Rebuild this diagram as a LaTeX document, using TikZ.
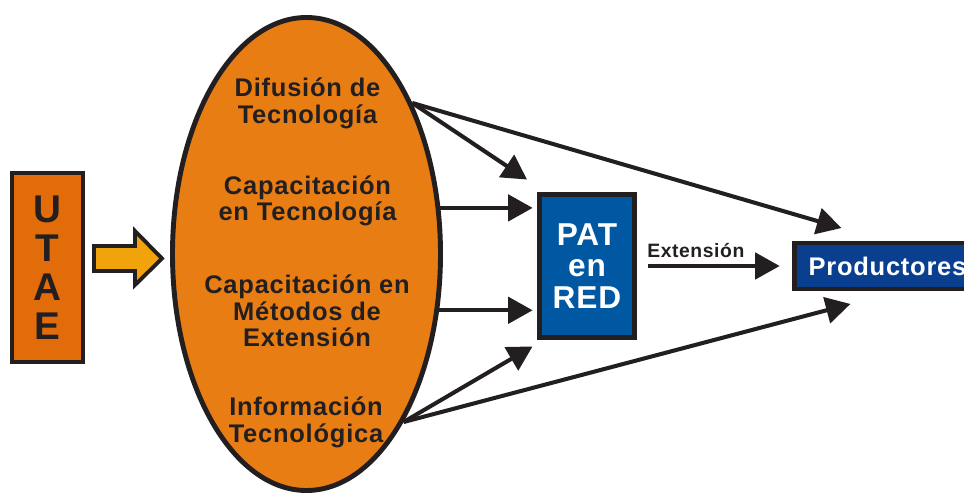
\documentclass[tikz,border=0pt]{standalone}
\usepackage{fontspec}
\setmainfont[LetterSpace=3]{Liberation Sans}
\usepackage{tikz}
\usetikzlibrary{shapes,arrows.meta,positioning,calc}

\definecolor{utaeorange}{HTML}{E36C0A}
\definecolor{ellorange}{HTML}{E87D14}
\definecolor{arrowyellow}{HTML}{F0A30A}
\definecolor{patblue}{HTML}{0058A3}
\definecolor{prodblue}{HTML}{0A3F8F}
\definecolor{outline}{HTML}{231F20}

\begin{document}
\begin{tikzpicture}[
    every node/.style={font=\bfseries, text=outline},
    block/.style={rectangle, draw=outline, line width=2.8pt, inner sep=0pt, text centered},
    bubble/.style={ellipse, draw=outline, line width=2.8pt, fill=ellorange, inner sep=0pt, minimum width=5.36cm, minimum height=9.46cm},
    topic/.style={align=center, font=\fontsize{14.5}{15}\selectfont\bfseries},
    fat/.style={draw=outline, line width=2.2pt, fill=arrowyellow, line join=miter},
    arrow/.style={line width=2.3pt, draw=outline, -{Triangle[length=14pt,width=15pt]}}
]
\useasboundingbox (0,0) rectangle (19.28,9.9);

\node[block, fill=utaeorange, line width=2.5pt, minimum width=1.42cm, minimum height=3.78cm, align=center,
      font=\fontsize{22}{22.2}\selectfont\bfseries] (utae) at (0.95,4.55) {U\\T\\A\\E};
\node[bubble] (ell) at (6.13,4.82) {};
\node[topic] (difusion) at (6.15,7.83) {Difusión de\\Tecnología};
\node[topic] (captec) at (6.15,5.88) {Capacitación\\en Tecnología};
\node[topic] (capmet) at (6.14,3.68) {Capacitación en\\Métodos de\\Extensión};
\node[topic] (info) at (6.12,1.45) {Información\\Tecnológica};
\node[block, fill=patblue, text=white, minimum width=1.9cm, minimum height=2.86cm, align=center,
      font=\fontsize{18}{18}\selectfont\bfseries] (pat) at (11.74,4.58) {PAT\\en\\RED};
\node[block, fill=prodblue, text=white, minimum width=3.72cm, minimum height=0.92cm,
      font=\fontsize{14.5}{15}\selectfont\bfseries, right=3.1cm of pat] (prod) {Productores};

% UTAE hacia el ovalo
\draw[fat] (1.88,4.98) -- (2.70,4.98) -- (2.70,5.28) -- (3.24,4.73) -- (2.70,4.20) -- (2.70,4.48) -- (1.88,4.48) -- cycle;

\draw[arrow] (ell.55.6) -- ($(pat.north west)+(-0.2,0.25)$);
\draw[arrow] (ell.55.6) -- ($(prod.north west)+(0.99,0.25)$);
\draw[arrow, shorten >=2.5pt] (ell.19.7) -- (ell.19.7 -| pat.west);
\draw[arrow, shorten >=2.5pt] (ell.-23.3) -- (ell.-23.3 -| pat.west);
\draw[arrow] (ell.-60) -- ($(pat.south west)+(-0.09,-0.13)$);
\draw[arrow] (ell.-60) -- ($(prod.south west)+(1.17,-0.25)$);

\draw[arrow, shorten <=6.5pt, shorten >=7pt] (pat.east |- prod.west) -- (prod.west)
    node[pos=0.38, above=3.4pt, inner sep=0pt, font=\fontsize{11}{12}\selectfont\bfseries] (ext) {Extensión};
\end{tikzpicture}
\end{document}
